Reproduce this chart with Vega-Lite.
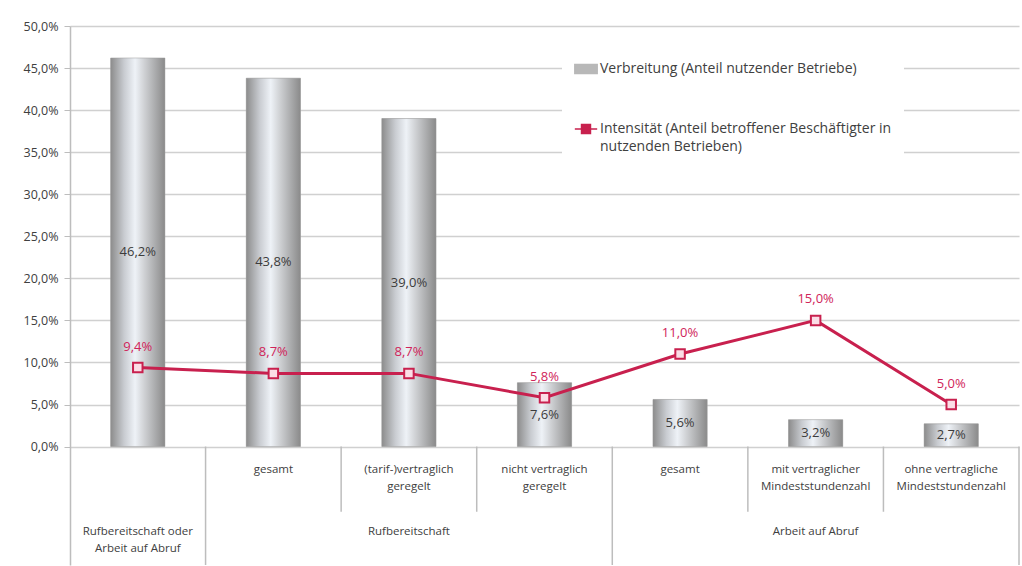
{
  "$schema": "https://vega.github.io/schema/vega-lite/v6.json",
  "width": 1022,
  "height": 566,
  "autosize": {"type": "fit", "contains": "padding"},
  "padding": {"left": 5, "top": 20, "right": 2, "bottom": 0},
  "background": "white",
  "config": {
    "locale": {"number": {"decimal": ",", "thousands": ".", "grouping": [3], "currency": ["", " €"]}},
    "view": {"stroke": null},
    "font": "Open Sans"
  },
  "datasets": {
    "main": [
      {"cat": "c1", "sub": "", "group": "Rufbereitschaft oder\nArbeit auf Abruf", "bar": 0.462, "line": 0.094},
      {"cat": "c2", "sub": "gesamt", "group": null, "bar": 0.438, "line": 0.087},
      {"cat": "c3", "sub": "(tarif-)vertraglich\ngeregelt", "group": "Rufbereitschaft", "bar": 0.390, "line": 0.087},
      {"cat": "c4", "sub": "nicht vertraglich\ngeregelt", "group": null, "bar": 0.076, "line": 0.058},
      {"cat": "c5", "sub": "gesamt", "group": null, "bar": 0.056, "line": 0.110},
      {"cat": "c6", "sub": "mit vertraglicher\nMindeststundenzahl", "group": "Arbeit auf Abruf", "bar": 0.032, "line": 0.150},
      {"cat": "c7", "sub": "ohne vertragliche\nMindeststundenzahl", "group": null, "bar": 0.027, "line": 0.050}
    ],
    "seps": [
      {"cat": "c2", "kind": "group"},
      {"cat": "c3", "kind": "sub"},
      {"cat": "c4", "kind": "sub"},
      {"cat": "c5", "kind": "group"},
      {"cat": "c6", "kind": "sub"},
      {"cat": "c7", "kind": "sub"}
    ]
  },
  "encoding": {
    "x": {"field": "cat", "type": "nominal", "axis": null, "scale": {"paddingInner": 0, "paddingOuter": 0}},
    "y": {"type": "quantitative"}
  },
  "layer": [
    {
      "data": {"name": "main"},
      "mark": {"type": "bar", "width": {"band": 0.4}},
      "encoding": {
        "y": {"field": "bar", "type": "quantitative",
          "scale": {"domain": [-0.1408, 0.5], "nice": false, "zero": false},
          "axis": {"title": null, "values": [0, 0.05, 0.1, 0.15, 0.2, 0.25, 0.3, 0.35, 0.4, 0.45, 0.5], "format": ".1%",
            "labelFontSize": 12.5, "labelColor": "#404040", "labelPadding": 6, "tickSize": 6, "tickColor": "#bdbdbd",
            "domainColor": "#bdbdbd", "domainWidth": 1.5, "gridColor": "#d0d0d0", "gridWidth": 1.5, "minExtent": 65}},
        "color": {"datum": "Verbreitung (Anteil nutzender Betriebe)",
          "scale": {"domain": ["Verbreitung (Anteil nutzender Betriebe)", "Intensität (Anteil betroffener Beschäftigter in nutzenden Betrieben)"], "range": ["#b8b8b8", "#c8204e"]},
          "legend": {
            "title": null, "orient": "none", "legendX": 492, "legendY": 19, "padding": 12,
            "fillColor": "white", "labelFontSize": 14, "labelColor": "#404040", "labelLimit": 420,
            "rowPadding": 40, "symbolSize": 500, "symbolStrokeWidth": 2, "labelOffset": 2,
            "labelExpr": "datum.index === 1 ? ['Intensität (Anteil betroffener Beschäftigter in', 'nutzenden Betrieben)'] : datum.label",
            "encode": {
              "symbols": {"update": {
                "shape": {"signal": "datum.index === 0 ? 'M-1,-0.4H1V0.4H-1Z' : 'M-1,0H-0.4M0.4,0H1M-0.4,-0.4H0.4V0.4H-0.4Z'"},
                "fill": {"signal": "datum.index === 0 ? '#c8c8c8' : '#fde2ea'"},
                "stroke": {"signal": "datum.index === 0 ? '#8f8f8f' : '#c8204e'"},
                "strokeWidth": {"value": 1.5},
                "opacity": {"value": 1}
              }},
              "labels": {"update": {"lineHeight": {"value": 18}}}
            }
          }}
      }
    },
    {
      "data": {"name": "main"},
      "mark": {"type": "bar", "width": {"band": 0.4},
        "fill": {"gradient": "linear", "x1": 0, "y1": 0, "x2": 1, "y2": 0,
          "stops": [
            {"offset": 0, "color": "#8c8c8c"},
            {"offset": 0.25, "color": "#c9ccd1"},
            {"offset": 0.45, "color": "#eef2f7"},
            {"offset": 0.62, "color": "#cfd1d4"},
            {"offset": 1, "color": "#8a8a8a"}
          ]},
        "stroke": "#9a9a9a", "strokeWidth": 0.5},
      "encoding": {"y": {"field": "bar", "type": "quantitative"}}
    },
    {
      "data": {"name": "main"},
      "transform": [{"calculate": "datum.bar / 2", "as": "mid"}],
      "mark": {"type": "text", "fontSize": 13, "color": "#3c3c3c"},
      "encoding": {
        "y": {"field": "mid", "type": "quantitative"},
        "text": {"field": "bar", "type": "quantitative", "format": ".1%"}
      }
    },
    {
      "data": {"name": "main"},
      "mark": {"type": "line", "strokeWidth": 3},
      "encoding": {
        "y": {"field": "line", "type": "quantitative"},
        "color": {"datum": "Intensität (Anteil betroffener Beschäftigter in nutzenden Betrieben)"}
      }
    },
    {
      "data": {"name": "main"},
      "mark": {"type": "point", "shape": "square", "size": 90, "filled": true, "fill": "#fbdde6", "stroke": "#c8204e", "strokeWidth": 2, "opacity": 1},
      "encoding": {"y": {"field": "line", "type": "quantitative"}}
    },
    {
      "data": {"name": "main"},
      "mark": {"type": "text", "fontSize": 13, "color": "#d0245a", "dy": -21},
      "encoding": {
        "y": {"field": "line", "type": "quantitative"},
        "text": {"field": "line", "type": "quantitative", "format": ".1%"}
      }
    },
    {
      "data": {"name": "main"},
      "mark": {"type": "text", "fontSize": 11.5, "color": "#404040", "baseline": "top", "lineBreak": "\n", "lineHeight": 17},
      "encoding": {
        "y": {"datum": -0.021},
        "text": {"field": "sub"}
      }
    },
    {
      "data": {"name": "main"},
      "transform": [{"filter": "datum.group != null"}],
      "mark": {"type": "text", "fontSize": 11.5, "color": "#404040", "baseline": "top", "lineBreak": "\n", "lineHeight": 17},
      "encoding": {
        "y": {"datum": -0.094},
        "text": {"field": "group"}
      }
    },
    {
      "data": {"name": "seps"},
      "transform": [{"filter": "datum.kind == 'group'"}],
      "mark": {"type": "rule", "color": "#bdbdbd", "strokeWidth": 1.5},
      "encoding": {
        "x": {"field": "cat", "type": "nominal", "bandPosition": 0},
        "y": {"datum": 0},
        "y2": {"datum": -0.1408}
      }
    },
    {
      "data": {"name": "seps"},
      "transform": [{"filter": "datum.kind == 'sub'"}],
      "mark": {"type": "rule", "color": "#bdbdbd", "strokeWidth": 1.5},
      "encoding": {
        "x": {"field": "cat", "type": "nominal", "bandPosition": 0},
        "y": {"datum": 0},
        "y2": {"datum": -0.0775}
      }
    },
    {
      "data": {"name": "seps"},
      "transform": [{"filter": "datum.cat == 'c7'"}],
      "mark": {"type": "rule", "color": "#bdbdbd", "strokeWidth": 1.5},
      "encoding": {
        "x": {"field": "cat", "type": "nominal", "bandPosition": 1},
        "y": {"datum": 0},
        "y2": {"datum": -0.1408}
      }
    }
  ]
}
